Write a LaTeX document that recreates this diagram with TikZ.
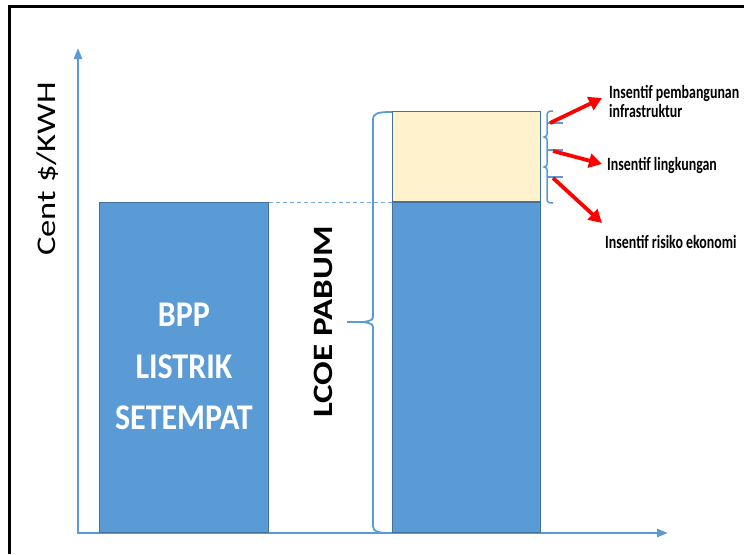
\documentclass[tikz,border=0pt]{standalone}
\usepackage{fontspec}
\setmainfont{Carlito}
\usepackage{graphicx}
\usetikzlibrary{arrows.meta,positioning}
\definecolor{barblue}{HTML}{5B9BD5}
\definecolor{barline}{HTML}{41719C}
\definecolor{axisblue}{HTML}{5B9BD5}
\definecolor{incentive}{HTML}{FFF2CC}
\tikzset{>=stealth}
\tikzset{%
    axisline/.style={%
        axisblue, line width=2.5pt,
        {Triangle[length=11pt,width=8pt]}-{Triangle[length=11pt,width=8pt]}
    },
    barbox/.style={draw=barline, line width=0.8pt, fill=barblue, inner sep=0pt, anchor=south west},
    bracket/.style={axisblue, line width=1.8pt},
    redarrow/.style={red, line width=3.8pt, -{Triangle[length=13pt,width=14pt]}},
    inctext/.style={font=\bfseries\fontsize{13.9}{16}\selectfont, anchor=base west, inner sep=0pt}
}

\begin{document}
\begin{tikzpicture}[x=1pt,y=-1pt]
    \useasboundingbox (0,0) rectangle (744,554);
    \draw[line width=3pt] (9,554) -- (9,6) -- (744,6);
    \coordinate (ytip) at (78,48);
    \coordinate (origin) at (78,533);
    \coordinate (xtip) at (668,533);
    \draw[axisline] (ytip) -- (origin) -- (xtip);
    \node[rotate=90, anchor=base, font=\fontsize{27}{28}\selectfont] (ylabel) at (55,169) {\scalebox{1.28}[1]{Cent \$/KWH}};

    \node[barbox, minimum width=169pt, minimum height=330pt] (bpp) at (99,533) {};
    \node[barbox, minimum width=148pt, minimum height=330pt] (pabum) at (392,533) {};
    \node[barbox, fill=incentive, minimum width=148pt, minimum height=90pt] (insentif) at (pabum.north west) {};
    \draw[axisblue!85, line width=1.3pt, dash pattern=on 4pt off 3pt] (bpp.north east) -- (pabum.north west);
    \node[text=white, font=\bfseries\fontsize{32}{46}\selectfont] (bpptext) at (bpp.center)
        {\scalebox{1}[1.13]{\begin{tabular}{@{}c@{}}BPP\\LISTRIK\\SETEMPAT\end{tabular}}};
    \node[rotate=90, anchor=base, font=\bfseries\fontsize{28}{30}\selectfont] (lcoe) at (332,322) {\scalebox{1.25}[1]{LCOE PABUM}};

    % brace round the second bar
    \draw[bracket] (392,112) .. controls (378,112) and (373,113) .. (373,120) -- (373,314)
        .. controls (373,320) .. (364,322) .. controls (373,324) .. (373,330) -- (373,526)
        .. controls (373,532) and (378,533) .. (392,533);
    \draw[bracket] (347,322) -- (364,322);

    % small braces
    \draw[bracket, line width=1.5pt] (553,111) .. controls (548,111) and (547,112) .. (547,116) -- (547,134)
        .. controls (547,136) .. (544,137) .. controls (547,138) .. (547,140) -- (547,164)
        .. controls (547,166) .. (544,167) .. controls (547,168) .. (547,170) -- (547,198)
        .. controls (547,202) and (548,203) .. (553,203);
    \draw[bracket, line width=1.5pt] (547,123) -- (563,123);
    \draw[bracket, line width=1.5pt] (547,150) -- (563,150);
    \draw[bracket, line width=1.5pt] (547,177) -- (563,177);

    \node[inctext] (infra) at (609,98) {\scalebox{1}[1.35]{Insentif pembangunan}};
    \node[inctext] (infra2) at (609,117) {\scalebox{1}[1.35]{infrastruktur}};
    \node[inctext] (lingk) at (607,170) {\scalebox{1}[1.35]{Insentif lingkungan}};
    \node[inctext] (risiko) at (605,248) {\scalebox{1}[1.35]{Insentif risiko ekonomi}};

    \coordinate (brA) at (550,123);
    \coordinate (brB) at (553,151);
    \coordinate (brC) at (553,178);
    \coordinate (tipA) at (602,98);
    \coordinate (tipB) at (602,164);
    \coordinate (tipC) at (602,223);
    \draw[redarrow] (brA) -- (tipA);
    \draw[redarrow] (brB) -- (tipB);
    \draw[redarrow] (brC) -- (tipC);
\end{tikzpicture}
\end{document}
